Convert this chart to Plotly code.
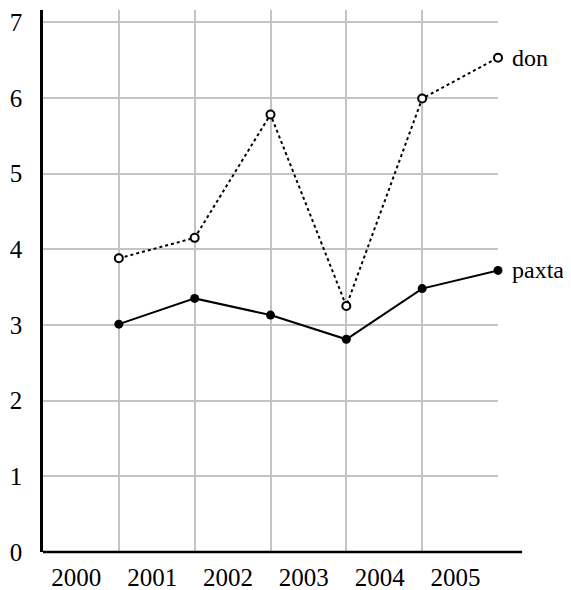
import plotly.graph_objects as go

years = ["2000", "2001", "2002", "2003", "2004", "2005"]
x_points = [1, 2, 3, 4, 5, 6]
label_pos = [0.44, 1.44, 2.44, 3.44, 4.44, 5.44]
don = [3.88, 4.15, 5.78, 3.25, 5.99, 6.53]
paxta = [3.01, 3.35, 3.13, 2.81, 3.48, 3.72]
y_ticks = [0, 1, 2, 3, 4, 5, 6, 7]

FONT = "Liberation Serif, Times New Roman, serif"

fig = go.Figure()

fig.add_trace(go.Scatter(
    x=x_points, y=don, mode="lines+markers", name="don",
    line=dict(color="black", width=2, dash="dot"),
    marker=dict(size=8, color="white", line=dict(color="black", width=2)),
    cliponaxis=False,
))
fig.add_trace(go.Scatter(
    x=x_points, y=paxta, mode="lines+markers", name="paxta",
    line=dict(color="black", width=2),
    marker=dict(size=9, color="black"),
    cliponaxis=False,
))

# series names next to the last point
for name, vals in (("don", don), ("paxta", paxta)):
    fig.add_annotation(
        x=x_points[-1], y=vals[-1], text=name, showarrow=False,
        xanchor="left", yanchor="middle", xshift=12,
        font=dict(family=FONT, size=24, color="black"),
    )

# x axis line runs a bit past the last gridline
fig.add_shape(
    type="line", xref="x domain", yref="y domain",
    x0=0, x1=1.053, y0=0, y1=0,
    line=dict(color="black", width=2.5), layer="above",
)

# the page adds an 8px body margin, so the figure is a bit smaller than the window
fig.update_layout(
    width=563, height=582,
    margin=dict(l=35, r=73, t=2, b=38),
    plot_bgcolor="white", paper_bgcolor="white",
    showlegend=False,
    font=dict(family=FONT, size=25, color="black"),
    xaxis=dict(
        range=[0, 6], automargin=False,
        tickmode="array", tickvals=label_pos, ticktext=years,
        showgrid=False, zeroline=False, showline=False,
        ticks="", ticklabelstandoff=8,
        minor=dict(tickmode="array", tickvals=x_points, showgrid=True,
                   gridcolor="#c4c4c4", gridwidth=2, ticks=""),
    ),
    yaxis=dict(
        range=[0, 7.16], automargin=False,
        tickmode="array", tickvals=y_ticks,
        showgrid=True, gridcolor="#c4c4c4", gridwidth=2,
        zeroline=False, showline=True, linecolor="black", linewidth=2.5,
        ticks="", ticklabelstandoff=13,
    ),
)

fig.write_html("out.html")
